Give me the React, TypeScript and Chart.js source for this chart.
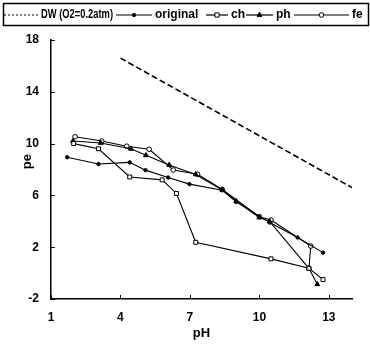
import React, { useEffect, useRef } from 'react';
import { Chart, registerables } from 'chart.js';

Chart.register(...registerables);

// Axis ticks
const xTicks = [1, 4, 7, 10, 13];
const yTicks = [-2, 2, 6, 10, 14, 18];

// Series names
const seriesLabels = ['DW (O2=0.2atm)', 'original', 'ch', 'ph', 'fe'];

// DW (O2=0.2atm) line
const dwPH = [4, 14];
const dwPE = [16.6, 6.6];

// original
const originalPH = [1.7, 3.05, 4.4, 5.08, 6.06, 6.98, 8.4, 9.0, 10.45, 11.65, 12.75];
const originalPE = [8.95, 8.42, 8.55, 7.95, 7.38, 6.87, 6.4, 5.5, 3.9, 2.75, 1.58];

// ch
const chPH = [1.98, 3.05, 4.4, 5.8, 6.42, 7.25, 10.5, 12.14, 12.75];
const chPE = [10.0, 9.6, 7.42, 7.2, 6.15, 2.38, 1.1, 0.37, -0.5];

// ph
const phPH = [1.95, 3.15, 4.45, 5.1, 6.1, 7.25, 8.4, 9.0, 10.0, 10.45, 12.14, 12.5];
const phPE = [10.2, 10.05, 9.6, 9.1, 8.35, 7.62, 6.42, 5.55, 4.3, 3.97, 0.37, -0.86];

// fe
const fePH = [2.04, 3.19, 4.27, 5.24, 6.28, 7.33, 8.4, 10.0, 10.5, 12.22, 12.14];
const fePE = [10.53, 10.2, 9.8, 9.56, 7.96, 7.63, 6.45, 4.35, 4.1, 2.09, 0.37];

const toPts = (xs: number[], ys: number[]) => xs.map((x, i) => ({ x, y: ys[i] }));

const FONT = '"Liberation Sans", Arial, Helvetica, sans-serif';

// legend layout (style only)
const legendSampleX = [4, 116, 206, 246, 294];
const legendSampleW = [34, 36, 22, 27, 55];
const legendTextMax = [72, 60, 30, 30, 20];

function drawMarker(ctx: CanvasRenderingContext2D, style: string, x: number, y: number, r: number, fill: string) {
  ctx.save();
  ctx.setLineDash([]);
  ctx.lineWidth = 1;
  ctx.strokeStyle = '#000';
  ctx.fillStyle = fill;
  ctx.beginPath();
  if (style === 'rect') {
    ctx.rect(x - r * 0.75, y - r * 0.75, r * 1.5, r * 1.5);
  } else if (style === 'triangle') {
    ctx.moveTo(x, y - r);
    ctx.lineTo(x + r * 0.87, y + r * 0.5);
    ctx.lineTo(x - r * 0.87, y + r * 0.5);
    ctx.closePath();
  } else {
    ctx.arc(x, y, r, 0, Math.PI * 2);
  }
  ctx.fill();
  ctx.stroke();
  ctx.restore();
}

const boxLegend = {
  id: 'boxLegend',
  afterDraw(chart: any) {
    const ctx: CanvasRenderingContext2D = chart.ctx;
    ctx.save();
    ctx.strokeStyle = '#000';
    ctx.lineWidth = 1.5;
    ctx.strokeRect(3.5, 3.5, 365, 22);
    ctx.font = 'bold 12px ' + FONT;
    ctx.textBaseline = 'middle';
    ctx.textAlign = 'left';
    const y = 15;
    chart.data.datasets.forEach((ds: any, i: number) => {
      const x0 = legendSampleX[i];
      const w = legendSampleW[i];
      ctx.beginPath();
      ctx.strokeStyle = '#000';
      ctx.lineWidth = 1.2;
      ctx.setLineDash(i === 0 ? [2, 2] : []);
      ctx.moveTo(x0, y);
      ctx.lineTo(x0 + w, y);
      ctx.stroke();
      ctx.setLineDash([]);
      if (ds.pointRadius > 0) {
        drawMarker(ctx, ds.pointStyle, x0 + w / 2, y, ds.pointRadius, ds.pointBackgroundColor);
      }
      ctx.fillStyle = '#000';
      ctx.fillText(ds.label, x0 + w + 3, y, legendTextMax[i]);
    });
    ctx.restore();
  },
};

const axisExtras = {
  id: 'axisExtras',
  afterDraw(chart: any) {
    const ctx: CanvasRenderingContext2D = chart.ctx;
    const xs = chart.scales.x;
    const ys = chart.scales.y;
    const { left, bottom } = chart.chartArea;
    ctx.save();
    ctx.strokeStyle = '#000';
    ctx.lineWidth = 1;
    ctx.beginPath();
    xs.ticks.forEach((t: any) => {
      const px = Math.round(xs.getPixelForValue(t.value)) + 0.5;
      ctx.moveTo(px, bottom);
      ctx.lineTo(px, bottom - 4);
    });
    ys.ticks.forEach((t: any) => {
      const py = Math.round(ys.getPixelForValue(t.value)) + 0.5;
      ctx.moveTo(left, py);
      ctx.lineTo(left + 4, py);
    });
    ctx.stroke();
    // y-axis title
    ctx.fillStyle = '#000';
    ctx.font = 'bold 13px ' + FONT;
    ctx.textAlign = 'center';
    ctx.textBaseline = 'middle';
    ctx.translate(27, ys.getPixelForValue(8.6));
    ctx.rotate(-Math.PI / 2);
    ctx.fillText('pe', 0, 0);
    ctx.restore();
  },
};

export default function App() {
  const ref = useRef<HTMLCanvasElement | null>(null);

  useEffect(() => {
    const canvas = ref.current;
    if (!canvas) return;
    const line = {
      borderColor: '#000',
      borderWidth: 1.1,
      showLine: true,
      pointBorderColor: '#000',
      pointBorderWidth: 1,
      pointHoverRadius: 0,
    };
    const chart = new Chart(canvas, {
      type: 'scatter',
      data: {
        datasets: [
          {
            ...line,
            label: seriesLabels[0],
            data: toPts(dwPH, dwPE),
            borderDash: [6, 3],
            borderWidth: 1.6,
            pointRadius: 0,
            pointStyle: 'circle',
            pointBackgroundColor: '#000',
          },
          {
            ...line,
            label: seriesLabels[1],
            data: toPts(originalPH, originalPE),
            pointStyle: 'circle',
            pointRadius: 1.7,
            pointBackgroundColor: '#000',
          },
          {
            ...line,
            label: seriesLabels[2],
            data: toPts(chPH, chPE),
            pointStyle: 'rect',
            pointRadius: 2.8,
            pointBackgroundColor: '#fff',
          },
          {
            ...line,
            label: seriesLabels[3],
            data: toPts(phPH, phPE),
            pointStyle: 'triangle',
            pointRadius: 2.8,
            pointBackgroundColor: '#000',
          },
          {
            ...line,
            label: seriesLabels[4],
            data: toPts(fePH, fePE),
            pointStyle: 'circle',
            pointRadius: 2.3,
            pointBackgroundColor: '#fff',
          },
        ],
      },
      options: {
        animation: false,
        responsive: false,
        devicePixelRatio: 1,
        events: [],
        layout: { padding: { left: 0, right: 18, top: 40, bottom: 0 } },
        plugins: {
          legend: { display: false },
          tooltip: { enabled: false },
          title: { display: false },
        },
        scales: {
          x: {
            type: 'linear',
            min: 1,
            max: 14,
            afterBuildTicks: (s: any) => {
              s.ticks = xTicks.map((v) => ({ value: v }));
            },
            afterFit: (s: any) => {
              s.height = 45;
            },
            ticks: {
              color: '#000',
              font: { family: FONT, size: 12, weight: 'bold' },
              padding: 11,
              maxRotation: 0,
              autoSkip: false,
            },
            grid: { display: false, drawTicks: false, tickLength: 0 },
            border: { display: true, color: '#000', width: 1.5 },
            title: {
              display: true,
              text: 'pH',
              color: '#000',
              font: { family: FONT, size: 13, weight: 'bold' },
              padding: { top: 0, bottom: 3 },
            },
          },
          y: {
            type: 'linear',
            min: -2,
            max: 18,
            afterBuildTicks: (s: any) => {
              s.ticks = yTicks.map((v) => ({ value: v }));
            },
            afterFit: (s: any) => {
              s.width = 51;
            },
            ticks: {
              color: '#000',
              font: { family: FONT, size: 12, weight: 'bold' },
              padding: 12,
              autoSkip: false,
            },
            grid: { display: false, drawTicks: false, tickLength: 0 },
            border: { display: true, color: '#000', width: 1.5 },
          },
        },
      } as any,
      plugins: [boxLegend, axisExtras],
    });
    return () => chart.destroy();
  }, []);

  return (
    <div style={{ position: 'absolute', left: 0, top: 0, width: 370, height: 344, background: '#fff' }}>
      <canvas ref={ref} width={370} height={344} style={{ display: 'block', width: 370, height: 344 }} />
    </div>
  );
}
